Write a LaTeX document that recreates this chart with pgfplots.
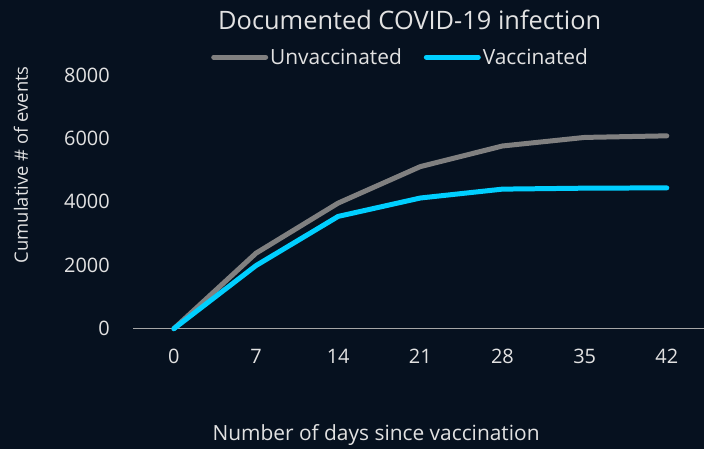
\documentclass[border=0pt]{standalone}
\usepackage{fontspec}
\setmainfont{Open Sans}
\usepackage{pgfplots}
\pgfplotsset{compat=1.18}
\definecolor{bgc}{HTML}{06111F}
\definecolor{txt}{HTML}{E2E2E2}
\definecolor{axc}{HTML}{A6A6A6}
\definecolor{unvac}{HTML}{808080}
\definecolor{vac}{HTML}{00CFFF}

\begin{document}
\begin{tikzpicture}[x=1bp,y=1bp]
  \fill[bgc] (0,0) rectangle (705,449);
  \begin{axis}[
      at={(133.5bp,120bp)}, anchor=south west,
      scale only axis, width=571.5bp, height=254bp,
      xmin=-3.45, xmax=45.2, ymin=0, ymax=8000, clip=false,
      axis x line*=bottom, axis y line*=left,
      x axis line style={color=axc, line width=1.3bp, -},
      y axis line style={draw=none},
      major tick length=0,
      xtick={0,7,...,42}, ytick={0,2000,...,8000},
      scaled y ticks=false,
      /pgf/number format/1000 sep={},
      /pgf/number format/assume math mode=true,
      tick label style={font=\fontsize{20}{23}\selectfont, text=txt},
      xticklabel style={anchor=center, yshift=-28bp},
      yticklabel style={anchor=east, inner sep=0pt, xshift=-23.5bp},
      xlabel={Number of days since vaccination},
      xlabel style={at={(rel axis cs:0.425,-0.42)}, anchor=center, font=\fontsize{21}{25}\selectfont, text=txt},
      ylabel={Cumulative \# of events},
      ylabel style={at={(rel axis cs:-0.197,0.646)}, anchor=center, rotate=0, font=\fontsize{18.5}{22}\selectfont, text=txt},
      title={Documented COVID-19 infection},
      title style={at={(rel axis cs:0.484,1.195)}, anchor=center, font=\fontsize{25.5}{30}\selectfont, text=txt},
      legend columns=2,
      legend style={at={(rel axis cs:0.468,1.07)}, anchor=center, draw=none, fill=none,
        text=txt, font=\fontsize{21}{25}\selectfont,
        /tikz/every even column/.append style={column sep=20bp}},
      legend image code/.code={\draw[#1, line width=5bp, line cap=round] (0bp,0bp) -- (52bp,0bp);},
      every axis plot/.append style={line width=5bp, line cap=round, line join=round},
    ]
    \addplot[unvac] coordinates {(0,0)(7,2380)(14,3960)(21,5110)(28,5760)(35,6030)(42,6080)};
    \addlegendentry{Unvaccinated}
    \addplot[vac] coordinates {(0,0)(7,1990)(14,3540)(21,4120)(28,4400)(35,4430)(42,4440)};
    \addlegendentry{Vaccinated}
  \end{axis}
\end{tikzpicture}
\end{document}
